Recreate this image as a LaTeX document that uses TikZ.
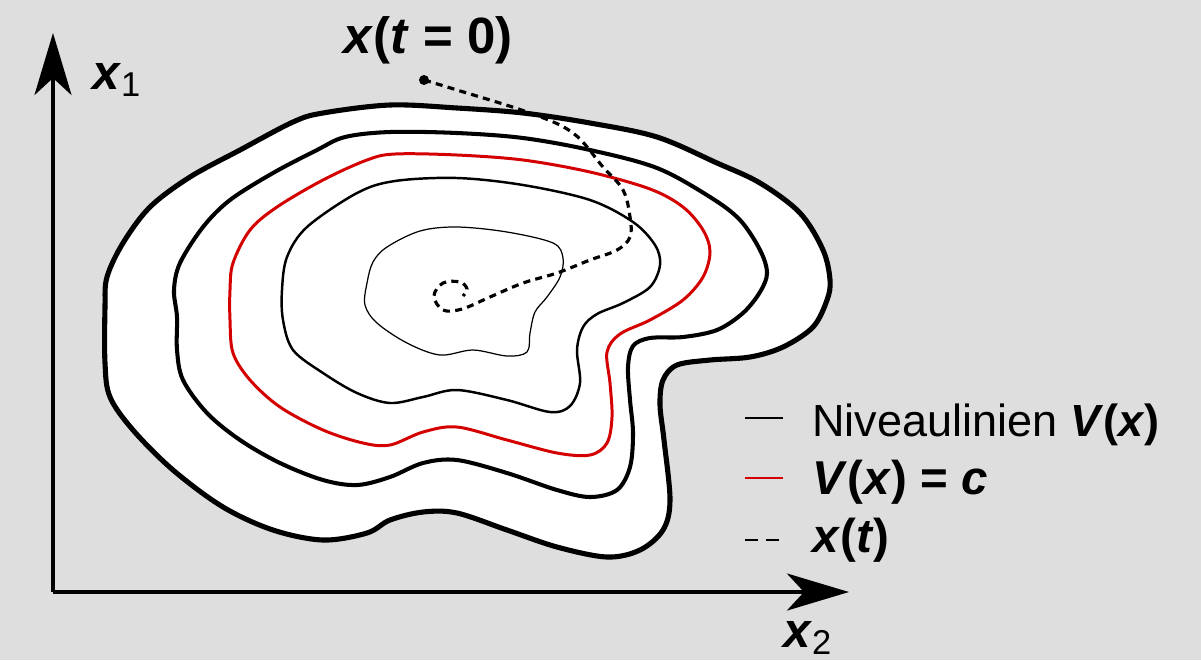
\documentclass[tikz,border=0pt]{standalone}
\usepackage{fontspec}
\setmainfont{Liberation Sans}
\usetikzlibrary{arrows.meta}

\definecolor{bggray}{HTML}{DEDEDE}
\definecolor{levelred}{HTML}{D40000}

\newcommand{\vb}[1]{\textbf{\textit{#1}}}

\begin{document}
\begin{tikzpicture}[x=0.01cm, y=-0.01cm,
    >={Stealth[length=6.2mm, width=3.7mm, inset=1.7mm]},
    font=\fontsize{12.8}{15}\selectfont,
    level/.style={smooth cycle, tension=0.55},
    traj/.style={line width=0.9pt, dash pattern=on 2pt off 1.5pt}]

    % Background
    \fill[bggray] (0,0) rectangle (1201,660);
    \useasboundingbox (0,0) rectangle (1201,660);

    % Level sets
    \draw[line width=1.45pt, fill=white] plot[level] coordinates {
        (105,307) (107,277) (123,243) (150,207) (190,177) (240,150) (293,122)
        (323,113) (390,105) (457,108) (523,113) (590,123) (657,137) (717,163)
        (760,183) (800,213) (823,250) (830,280) (827,300) (813,327) (783,347)
        (750,357) (710,360) (677,365) (663,380) (660,405) (664,440) (670,500)
        (663,530) (640,550) (607,557) (557,547) (507,530) (457,513) (423,512)
        (390,520) (367,533) (323,540) (273,530) (223,507) (173,470) (133,430)
        (110,397) (105,363)};
    \draw[line width=1.15pt] plot[level] coordinates {
        (177,317) (174,290) (180,263) (203,227) (230,200) (273,173) (317,150)
        (345,137) (390,132) (457,133) (523,138) (590,150) (657,168) (710,197)
        (740,220) (760,250) (767,273) (760,292) (743,313) (717,330) (683,337)
        (650,338) (633,346) (628,367) (630,400) (633,433) (630,467) (617,490)
        (590,497) (557,490) (507,473) (457,460) (423,463) (390,477) (357,485)
        (323,480) (280,463) (240,440) (207,413) (183,380) (177,350)};
    \draw[line width=0.85pt, levelred] plot[level] coordinates {
        (230,290) (233,263) (250,230) (277,207) (323,180) (367,160) (395,154)
        (457,155) (523,160) (590,172) (650,189) (683,207) (703,230) (710,252)
        (703,277) (683,300) (650,320) (620,334) (607,352) (610,383) (612,417)
        (607,443) (590,455) (557,453) (507,440) (457,427) (423,432) (390,445)
        (363,443) (323,430) (280,407) (250,380) (233,353) (230,320)};
    \draw[line width=0.7pt] plot[level] coordinates {
        (282,290) (287,257) (307,227) (357,193) (395,181) (457,178) (523,185)
        (590,200) (633,222) (655,245) (660,265) (650,287) (623,303) (597,314)
        (583,327) (577,350) (580,383) (570,406) (550,412) (507,400) (457,390)
        (423,397) (390,403) (357,393) (323,373) (293,350) (283,320)};
    \draw[line width=0.35pt] plot[level] coordinates {
        (365,305) (367,283) (373,262) (387,247) (420,231) (457,227) (507,232)
        (553,243) (563,258) (560,277) (547,297) (535,312) (530,333) (527,352)
        (507,356) (473,350) (440,355) (407,343) (377,323)};

    % Trajectory
    \fill (424,80) circle (5);
    \draw[traj] plot[smooth, tension=0.6] coordinates {
        (424,80) (457,90) (530,113) (573,133) (603,167) (623,190) (630,217)
        (630,237) (617,250) (590,260) (557,273) (523,283) (490,297) (462,309)
        (443,310) (434,296) (443,283) (460,282) (467,289) (463,296)};

    % Axes
    \coordinate (O) at (53,592);
    \coordinate (X1) at (53,33);
    \coordinate (X2) at (849,592);
    \draw[line width=1pt, ->] (O) -- (X1);
    \draw[line width=1pt, ->] (O) -- (X2);

    % Labels
    \node[font=\fontsize{14}{16}\selectfont] (lx1) at (117,80) {\vb{x}\textsubscript{1}};
    \node[font=\fontsize{14}{16}\selectfont] (lx2) at (808,638) {\vb{x}\textsubscript{2}};
    \node[font=\fontsize{14.5}{17}\selectfont] (lstart) at (428,40)
        {\vb{x}\textbf{(}\vb{t}\textbf{\;=\;0)}};

    % Legend
    \coordinate (la) at (745,418);
    \coordinate (lb) at (783,418);
    \coordinate (ra) at (745,478);
    \coordinate (rb) at (783,478);
    \coordinate (da) at (745,540);
    \coordinate (db) at (783,540);
    \draw[line width=0.8pt] (la) -- (lb);
    \draw[line width=0.8pt, levelred] (ra) -- (rb);
    \draw[line width=0.8pt, dash pattern=on 3.6pt off 2.4pt] (da) -- (db);
    \node[anchor=west] (tlevel) at (800,425)
        {Niveaulinien \vb{V}\textbf{(}\vb{x}\textbf{)}};
    \node[anchor=west, font=\fontsize{13.5}{16}\selectfont] (tred) at (800,482)
        {\vb{V}\textbf{(}\vb{x}\textbf{)\;=\;}\vb{c}};
    \node[anchor=west, font=\fontsize{13.5}{16}\selectfont] (ttraj) at (800,540)
        {\vb{x}\textbf{(}\vb{t}\textbf{)}};

\end{tikzpicture}
\end{document}
